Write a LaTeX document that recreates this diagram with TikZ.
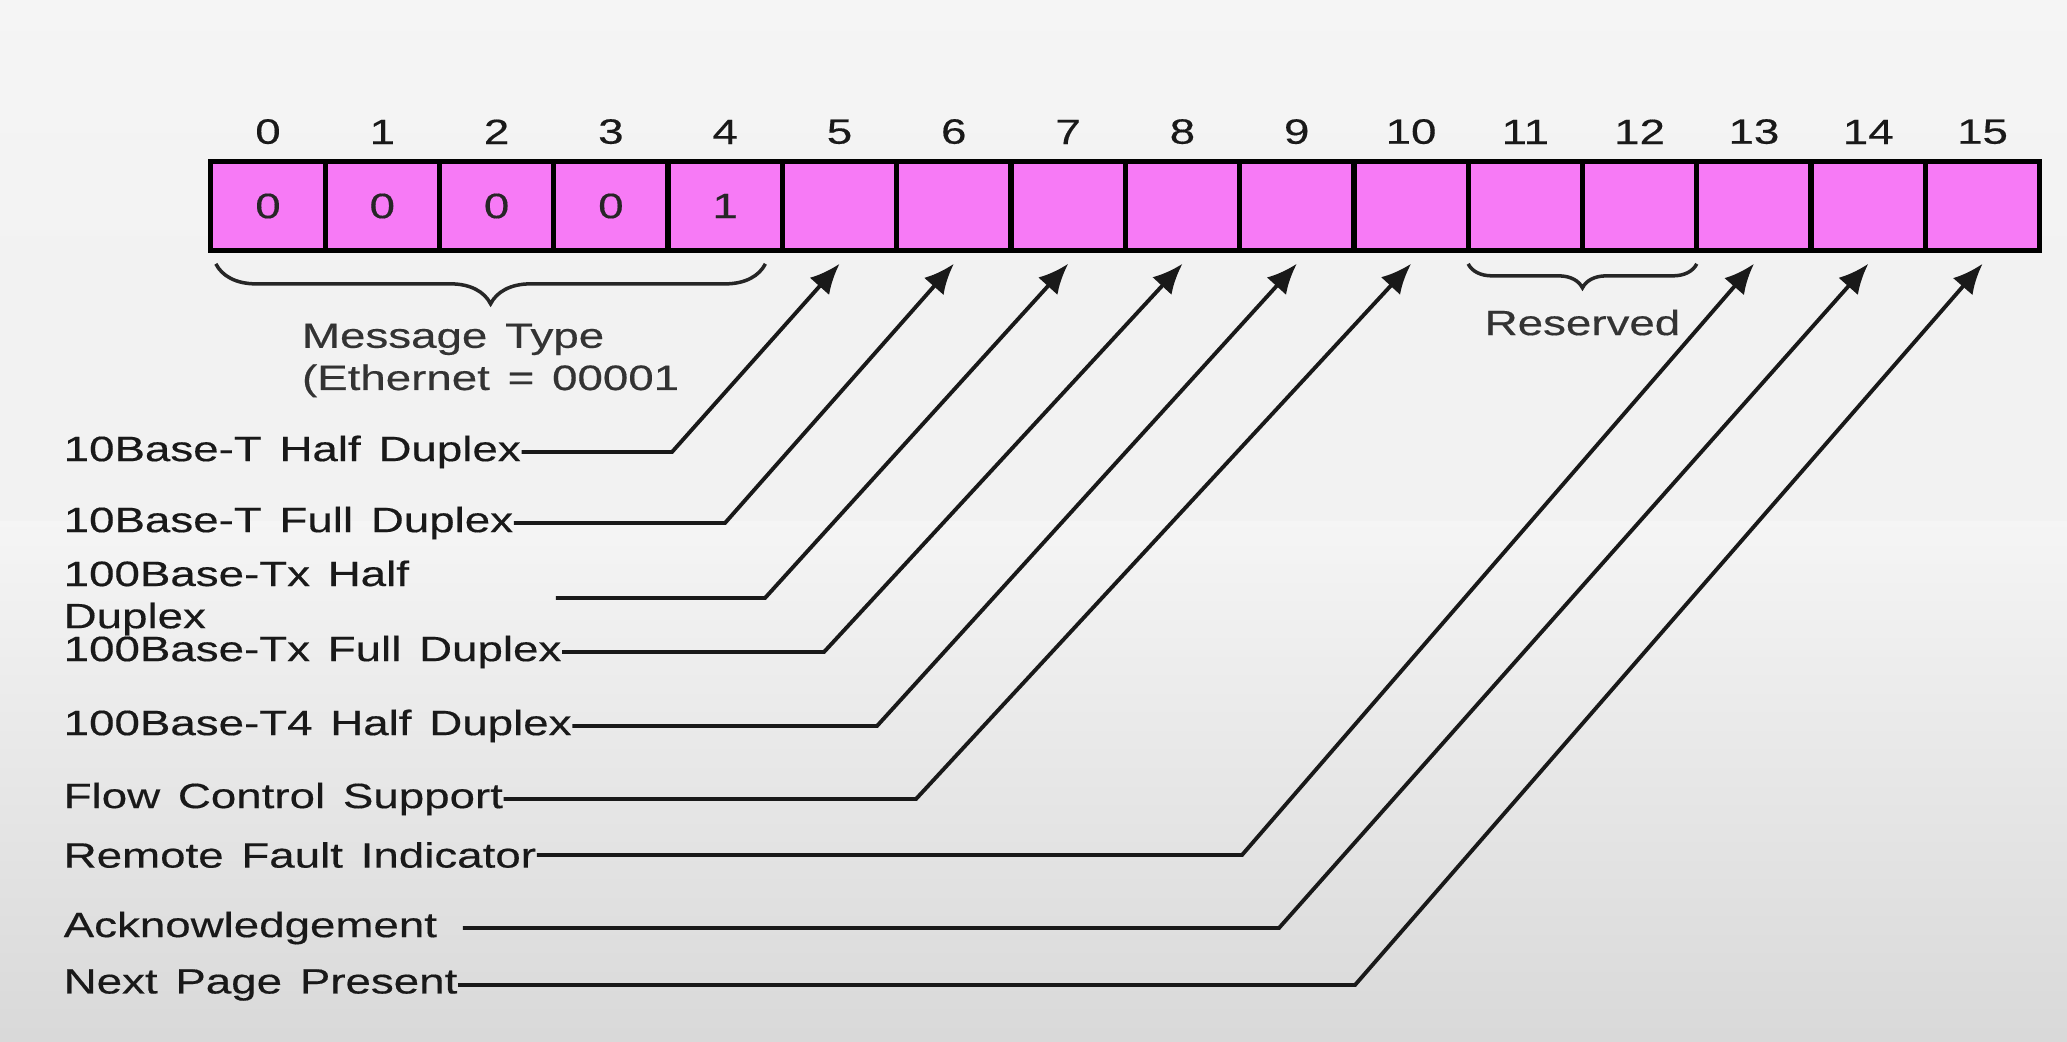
\documentclass[tikz,border=0pt]{standalone}
\usepackage{fontspec}
\setmainfont{Liberation Sans}[FakeStretch=1.3, WordSpace=1.4, FakeBold=0.4]
\usetikzlibrary{positioning}
\usetikzlibrary{decorations.pathreplacing}
\usetikzlibrary{arrows.meta}
\definecolor{bitpink}{RGB}{247,122,246}
\tikzset{
	bit/.style={draw, rectangle, line width=1.5pt, inner sep=0pt, outer sep=0pt, minimum width=1.143cm, minimum height=0.897cm, fill=bitpink, text=black!85},
	idx/.style={inner sep=0pt, text=black!90},
	field/.style={anchor=west, inner sep=0pt, text=black!90},
	% braces under the register
	grp/.style={decorate, decoration={brace, mirror, amplitude=#1}, line width=1pt, black!85},
	grp/.default=3mm,
	note/.style={inner sep=0pt, text=black!80, align=left},
}

\begin{document}
\begin{tikzpicture}[label distance=1.64mm]
	\shade [top color=black!4, middle color=black!5, bottom color=black!15] (0,0) rectangle (20.67,5.2);
	\fill [black!5] (0,5.2) rectangle (20.67,7.8);
	\shade [top color=black!4, bottom color=black!5] (0,7.8) rectangle (20.67,10.41);
	\useasboundingbox (0,0) rectangle (20.67,10.41);

	\node (b0) [bit, label={[idx]above:0}] at (2.68,8.35) {0};
	\node (b1) [bit, right=0pt of b0, label={[idx]above:1}] {0};
	\node (b2) [bit, right=0pt of b1, label={[idx]above:2}] {0};
	\node (b3) [bit, right=0pt of b2, label={[idx]above:3}] {0};
	\node (b4) [bit, right=0pt of b3, label={[idx]above:4}] {1};
	\node (b5) [bit, right=0pt of b4, label={[idx]above:5}] {};
	\node (b6) [bit, right=0pt of b5, label={[idx]above:6}] {};
	\node (b7) [bit, right=0pt of b6, label={[idx]above:7}] {};
	\node (b8) [bit, right=0pt of b7, label={[idx]above:8}] {};
	\node (b9) [bit, right=0pt of b8, label={[idx]above:9}] {};
	\node (b10) [bit, right=0pt of b9, label={[idx]above:10}] {};
	\node (b11) [bit, right=0pt of b10, label={[idx]above:11}] {};
	\node (b12) [bit, right=0pt of b11, label={[idx]above:12}] {};
	\node (b13) [bit, right=0pt of b12, label={[idx]above:13}] {};
	\node (b14) [bit, right=0pt of b13, label={[idx]above:14}] {};
	\node (b15) [bit, right=0pt of b14, label={[idx]above:15}] {};

	\draw [grp=4mm] ([xshift=0.5mm, yshift=-1.3mm]b0.south west) -- ([xshift=-1.7mm, yshift=-1.3mm]b4.south east)
		node (msg) [note, midway, below=0.58cm] {Message Type\\(Ethernet = 00001};
	\draw [grp=2.4mm] ([yshift=-1.3mm]b11.south west) -- ([yshift=-1.3mm]b12.south east)
		node (rsv) [note, midway, below=0.44cm] {Reserved};

	\node (half10) [field] at (0.63,5.89) {10Base-T Half Duplex};
	\node (full10) [field] at (0.63,5.18) {10Base-T Full Duplex};
	\node (halftx) [field, align=left] at (0.63,4.43) {100Base-Tx Half\\Duplex};
	\node (fulltx) [field] at (0.63,3.89) {100Base-Tx Full Duplex};
	\node (halft4) [field] at (0.63,3.15) {100Base-T4 Half Duplex};
	\node (flow) [field] at (0.63,2.42) {Flow Control Support};
	\node (fault) [field] at (0.63,1.86) {Remote Fault Indicator};
	\node (ack) [field] at (0.63,1.13) {Acknowledgement};
	\node (next) [field] at (0.63,0.56) {Next Page Present};

	\begin{scope}[line width=1.1pt, black!90, ->, >={Latex[length=3mm, width=2.6mm]}]
		\draw (half10.east) -- (6.72,0 |- half10.east) -- ([yshift=-1.3mm]b5.south);
		\draw (full10.east) -- (7.25,0 |- full10.east) -- ([yshift=-1.3mm]b6.south);
		\draw [shorten <=1.46cm] (halftx.east) -- (7.65,0 |- halftx.east) -- ([yshift=-1.3mm]b7.south);
		\draw (fulltx.east) -- (8.24,0 |- fulltx.east) -- ([yshift=-1.3mm]b8.south);
		\draw (halft4.east) -- (8.77,0 |- halft4.east) -- ([yshift=-1.3mm]b9.south);
		\draw (flow.east) -- (9.16,0 |- flow.east) -- ([yshift=-1.3mm]b10.south);
		\draw (fault.east) -- (12.42,0 |- fault.east) -- ([yshift=-1.3mm]b13.south);
		\draw [shorten <=0.25cm] (ack.east) -- (12.79,0 |- ack.east) -- ([yshift=-1.3mm]b14.south);
		\draw (next.east) -- (13.55,0 |- next.east) -- ([yshift=-1.3mm]b15.south);
	\end{scope}
\end{tikzpicture}
\end{document}
